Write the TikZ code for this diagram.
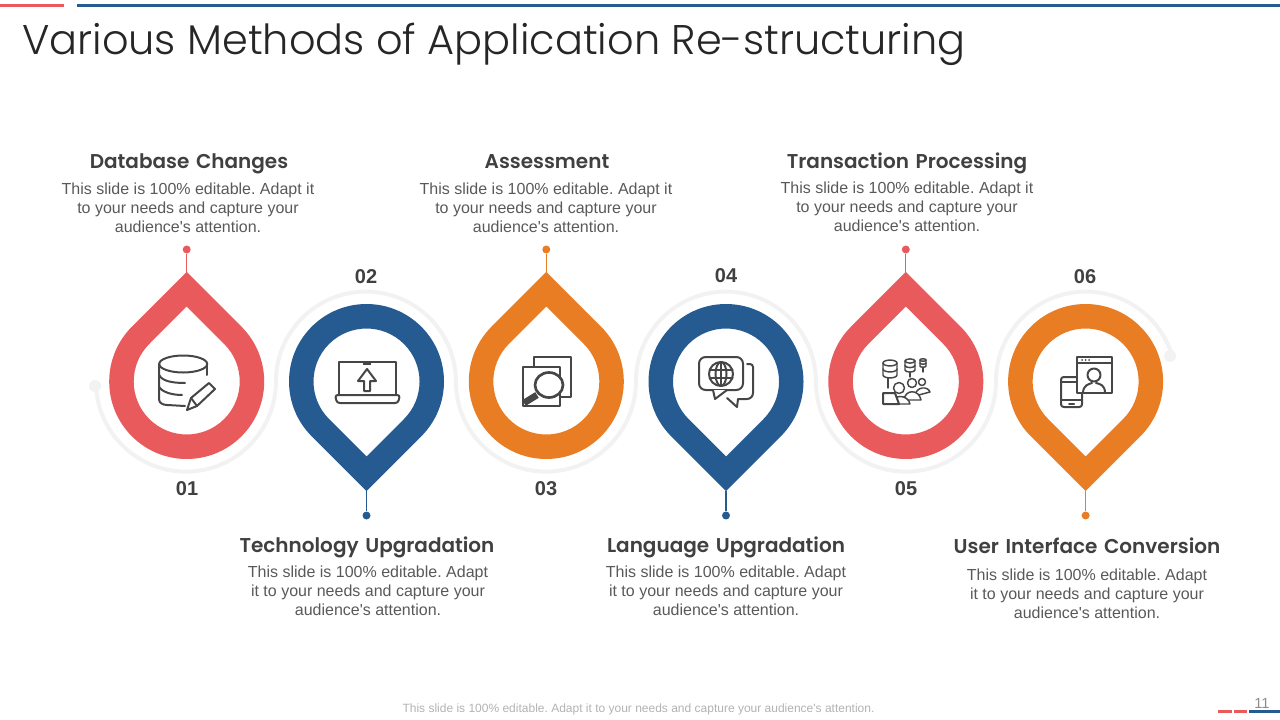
\documentclass[tikz,border=0pt]{standalone}
\usepackage{fontspec}
\setmainfont{Liberation Sans}
\newfontfamily\headfont[WordSpace=1.4]{Poppins SemiBold}
\newfontfamily\titlefont{Poppins Light}
\usetikzlibrary{
    arrows.meta,
    positioning
}
\definecolor{dropR}{RGB}{233, 90, 92}
\definecolor{dropB}{RGB}{38, 91, 146}
\definecolor{dropO}{RGB}{232,125, 36}
\definecolor{trackC}{RGB}{242,242,242}
\definecolor{headC}{RGB}{64,64,64}
\definecolor{bodyC}{RGB}{89,89,89}
\definecolor{iconC}{RGB}{70,70,70}
\tikzset{
  heading/.style = {font=\headfont\fontsize{15}{18}\selectfont, text=headC, inner sep=0pt, anchor=base},
  bodytxt/.style = {font=\frenchspacing\fontsize{12}{14.3}\selectfont, text=bodyC, align=center, inner sep=0pt},
  number/.style  = {font=\fontsize{15}{18}\selectfont\bfseries, text=headC, inner sep=0pt},
  pindot/.style  = {circle, inner sep=0pt, minimum size=8*0.75pt},
  track/.style   = {trackC, line width=3pt},
  ic/.style      = {iconC, line width=1.5pt, line cap=round, line join=round},
  icw/.style     = {ic, fill=white},
  ics/.style     = {ic, line width=1.1pt}
}
% #1 x of centre, #2 colour, #3 +1 tip up / -1 tip down, #4 id
\newcommand{\drawdrop}[4]{%
  \begin{scope}[shift={(#1,381.5)}, yscale=#3]
    \fill[#2, even odd rule]
      (0,-109.6) -- (54.8,-54.8) arc (-45:225:77.5) -- cycle
      (0,-75) -- (37.5,-37.5) arc (-45:225:53) -- cycle;
    \coordinate (tip#4) at (0,-109);
    \node[pindot, fill=#2] (dot#4) at (0,{-133+#3}) {};
    \draw[#2, line width=0.8pt] (tip#4) -- (dot#4);
  \end{scope}
}
% #1 id, #2 x, #3 y, #4 text
\newcommand{\bodyblock}[4]{%
  \node[bodytxt] (body#1) at (#2,#3) {This slide is 100\% editable. #4 attention.};
}
% #1 x, #2 y of top ellipse centre, #3 half width, #4 height
\newcommand{\drawdb}[4]{%
  \draw[ics] (#1,#2) ellipse (#3 and #3*0.42);
  \draw[ics] ({#1-#3},#2) -- ({#1-#3},{#2+#4}) arc (180:0:#3 and #3*0.42) -- ({#1+#3},#2);
  \draw[ics] ({#1-#3},{#2+#4*0.5}) arc (180:0:#3 and #3*0.42);
}
\begin{document}
\begin{tikzpicture}[x=0.75pt, y=0.75pt, yscale=-1]
  \useasboundingbox (0,0) rectangle (1280,720);

  %% ── Top bars and title ────────────────────────────────────────
  \fill[dropR] (0,4) rectangle (64,7);
  \fill[dropB] (77,4) rectangle (1280,7);
  \node[anchor=base west, inner sep=0pt, text=black!85, font=\titlefont\fontsize{31.1}{36}\selectfont] (title) at (22,55)
    {Various Methods of Application Re-structuring};

  %% ── Grey track ────────────────────────────────────────────────
  \node[circle, fill=trackC, inner sep=0pt, minimum size=9pt] (trackstart) at (95,386) {};
  \node[circle, fill=trackC, inner sep=0pt, minimum size=9pt] (trackend) at (1170,356) {};
  \draw[track] (96,386.3) arc (177:0:90)
    arc (180:360:90) arc (180:0:90) arc (180:360:90) arc (180:0:90) arc (180:343:90);

  %% ── Drops ─────────────────────────────────────────────────────
  \drawdrop{186.7}{dropR}{1}{A}
  \drawdrop{366.5}{dropB}{-1}{B}
  \drawdrop{546.3}{dropO}{1}{C}
  \drawdrop{726.0}{dropB}{-1}{D}
  \drawdrop{905.8}{dropR}{1}{E}
  \drawdrop{1085.6}{dropO}{-1}{F}

  %% ── Numbers ───────────────────────────────────────────────────
  \node[number] (numA) at (187,489) {01};
  \node[number] (numB) at (366,277) {02};
  \node[number] (numC) at (546,489) {03};
  \node[number] (numD) at (726,276) {04};
  \node[number] (numE) at (906,489) {05};
  \node[number] (numF) at (1085,277) {06};

  %% ── Headings ──────────────────────────────────────────────────
  \node[heading] (headA) at (189,169) {Database Changes};
  \node[heading] (headB) at (367,552) {Technology Upgradation};
  \node[heading] (headC) at (547,169) {Assessment};
  \node[heading] (headD) at (726,552) {Language Upgradation};
  \node[heading] (headE) at (907,169) {Transaction Processing};
  \node[heading] (headF) at (1087,553) {User Interface Conversion};

  %% ── Body texts ────────────────────────────────────────────────
  \bodyblock{A}{188}{208}{Adapt it\\ to your needs and capture your\\ audience\textquotesingle s}
  \bodyblock{B}{368}{591}{Adapt\\ it to your needs and capture your\\ audience\textquotesingle s}
  \bodyblock{C}{546}{208}{Adapt it\\ to your needs and capture your\\ audience\textquotesingle s}
  \bodyblock{D}{726}{591}{Adapt\\ it to your needs and capture your\\ audience\textquotesingle s}
  \bodyblock{E}{907}{207}{Adapt it\\ to your needs and capture your\\ audience\textquotesingle s}
  \bodyblock{F}{1087}{594}{Adapt\\ it to your needs and capture your\\ audience\textquotesingle s}

  %% ── Icon 1: database and pencil ───────────────────────────────
  \draw[ic] (183.2,364) ellipse (24 and 8.5);
  \draw[ic] (159.2,364) -- (159.2,400) arc (180:90:8 and 5) -- (185,406);
  \draw[ic] (207.2,364) -- (207.2,375);
  \draw[ic] (159.2,375) .. controls (162,381) and (172,383) .. (185,383);
  \draw[ic] (159.2,387) .. controls (162,392) and (172,395) .. (182,395);
  \draw[ic] (187,410) -- (191,398) -- (209,383) -- (215,389) -- (197,406) -- cycle;
  \draw[ic] (191,398) -- (197,406);

  %% ── Icon 2: laptop and arrow ──────────────────────────────────
  \draw[ic] (339,395) -- (339,362) -- (396,362) -- (396,395);
  \draw[ic, rounded corners=2pt] (335,395) -- (400,395) -- (398,403) -- (337,403) -- cycle;
  \fill[iconC] (363,362) rectangle (371,365);
  \draw[ic] (367,369) -- (376,381) -- (370,381) -- (370,391) -- (364,391) -- (364,381) -- (358,381) -- cycle;

  %% ── Icon 3: sheets and magnifier ──────────────────────────────
  \draw[icw] (534,357) rectangle (571,397);
  \draw[icw] (523,367) rectangle (560,406);
  \draw[icw, line width=2pt] (549,385) ellipse (14 and 12.5);
  \draw[iconC, line width=5pt] (524,403) -- (537,395);

  %% ── Icon 4: speech bubbles and globe ──────────────────────────
  \draw[ic] (747,364) -- (750,364) arc (-90:0:3) -- (753,393) arc (0:90:6) -- (738,399) -- (737,407) -- (727,398);
  \draw[icw, rounded corners=5pt] (699,357) rectangle (743,390);
  \draw[ic, fill=white] (713,390) -- (715,399) -- (727,390);
  \draw[ic] (721,374) circle (12);
  \draw[ic] (721,374) ellipse (5.5 and 12);
  \draw[ic] (721,362) -- (721,386) (709.5,370) -- (732.5,370) (709.5,378) -- (732.5,378);

  %% ── Icon 5: databases and people ──────────────────────────────
  \drawdb{890}{363}{7}{12}
  \drawdb{910}{361}{5}{9}
  \drawdb{923}{360}{3}{6}
  \draw[ics] (888,378) -- (888,388) (910,372) -- (910,377) (923,368) -- (923,372);
  \draw[icw, ics, fill=white] (922,382) circle (3.5);
  \draw[icw, ics, fill=white] (915,396) .. controls (916,386) and (928,386) .. (930,392) -- cycle;
  \draw[icw, ics, fill=white] (912,383) circle (4.5);
  \draw[icw, ics, fill=white] (904,400) .. controls (905,389) and (919,389) .. (921,400) -- cycle;
  \draw[icw, ics, fill=white] (899,388) circle (5.5);
  \draw[icw, ics, fill=white] (892,404) .. controls (892,394) and (908,394) .. (910,404) -- cycle;
  \draw[icw, fill=white] (883,393) -- (895,393) -- (899,404) -- (883,404) -- cycle;

  %% ── Icon 6: phone and window ──────────────────────────────────
  \draw[ic, rounded corners=2pt] (1061,377) rectangle (1082,407);
  \draw[ic] (1061,382) -- (1076,382) (1061,400) -- (1082,400) (1069,404) -- (1074,404);
  \draw[icw] (1077,357) rectangle (1112,393);
  \draw[ic] (1077,363) -- (1112,363);
  \fill[iconC] (1082,360) circle (1) (1085.5,360) circle (1) (1089,360) circle (1);
  \draw[ic] (1094,375) circle (6.5);
  \draw[ic] (1083,393) .. controls (1083,385) and (1089,384) .. (1092,383) (1096,383) .. controls (1100,384) and (1105,385) .. (1105,393);

  %% ── Footer ────────────────────────────────────────────────────
  \node[inner sep=0pt, text=black!30, font=\frenchspacing\fontsize{9}{11}\selectfont] (footer) at (638.5,709)
    {This slide is 100\% editable. Adapt it to your needs and capture your audience\textquotesingle s attention.};
  \node[inner sep=0pt, text=black!45, font=\fontsize{11}{13}\selectfont] (pagenum) at (1262,703) {11};
  \fill[dropR] (1218,710) rectangle (1232,713);
  \fill[dropR] (1234,710) rectangle (1247,713);
  \fill[dropB] (1249,710) rectangle (1280,713);

\end{tikzpicture}
\end{document}
